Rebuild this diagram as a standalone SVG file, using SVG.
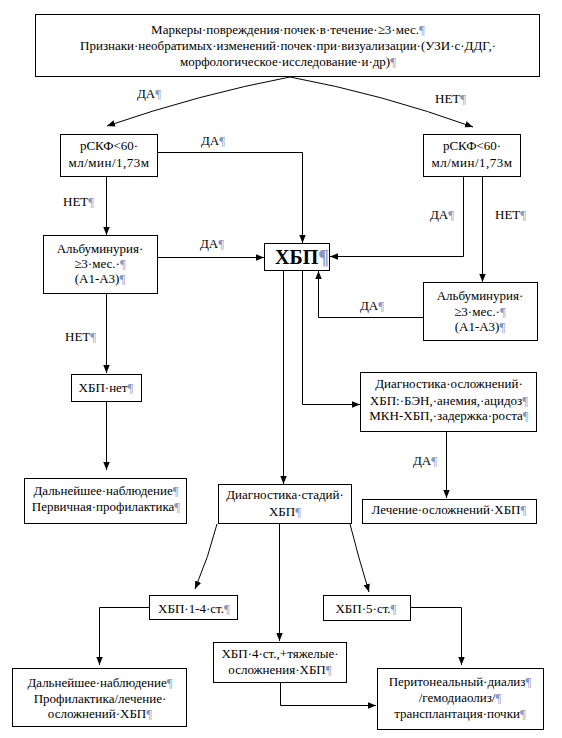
<svg xmlns="http://www.w3.org/2000/svg" width="562" height="738" viewBox="0 0 562 738">
<style>
text{font-family:"Liberation Serif","Times New Roman",serif;font-size:13px;fill:#000}
.c{text-anchor:middle}
.p{fill:#8797bd}
.b{font-size:20px;font-weight:bold}
rect{fill:#fff;stroke:#000;stroke-width:1}
.e path{fill:none;stroke:#000;stroke-width:1}
</style>
<defs>
<marker id="a" viewBox="0 0 8 8" refX="8" refY="4" markerWidth="8" markerHeight="8" markerUnits="userSpaceOnUse" orient="auto">
<path d="M0,0.8 L8,4 L0,7.2 Z" fill="#000"/>
</marker>
</defs>
<rect x="0" y="0" width="562" height="738" style="stroke:none"/>

<g id="n-top">
<rect x="35.5" y="14.5" width="504" height="62"/>
<text class="c" x="288" y="34">Маркеры·повреждения·почек·в·течение·≥3·мес.<tspan class="p">¶</tspan></text>
<text class="c" x="288" y="50">Признаки·необратимых·изменений·почек·при·визуализации·(УЗИ·с·ДДГ,·</text>
<text class="c" x="288" y="66">морфологическое·исследование·и·др)<tspan class="p">¶</tspan></text>
</g>

<g id="n-gfr-left">
<rect x="60.5" y="134.5" width="97" height="42"/>
<text class="c" x="109" y="150">рСКФ&lt;60·</text>
<text class="c" x="109" y="167" letter-spacing="0.5">мл/мин/1,73м</text>
</g>

<g id="n-gfr-right">
<rect x="423.5" y="134.5" width="97" height="42"/>
<text class="c" x="472" y="150">рСКФ&lt;60·</text>
<text class="c" x="472" y="167" letter-spacing="0.5">мл/мин/1,73м</text>
</g>

<g id="n-alb-left">
<rect x="43.5" y="235.5" width="114" height="58"/>
<text class="c" x="100" y="253">Альбуминурия·</text>
<text class="c" x="100" y="268">≥3·мес.·<tspan class="p">¶</tspan></text>
<text class="c" x="100" y="283">(А1-А3)<tspan class="p">¶</tspan></text>
</g>

<g id="n-ckd">
<rect x="264.5" y="243.5" width="65" height="27"/>
<text class="b" x="275" y="264">ХБП<tspan class="p">¶</tspan></text>
</g>

<g id="n-alb-right">
<rect x="423.5" y="282.5" width="114" height="58"/>
<text class="c" x="480" y="300">Альбуминурия·</text>
<text class="c" x="480" y="316">≥3·мес.·<tspan class="p">¶</tspan></text>
<text class="c" x="480" y="331">(А1-А3)<tspan class="p">¶</tspan></text>
</g>

<g id="n-no-ckd">
<rect x="71.5" y="374.5" width="70" height="27"/>
<text class="c" x="106" y="392">ХБП·нет<tspan class="p">¶</tspan></text>
</g>

<g id="n-compl-diag">
<rect x="360.5" y="372.5" width="176" height="59"/>
<text class="c" x="449" y="388">Диагностика·осложнений·</text>
<text class="c" x="449" y="405">ХБП:·БЭН,·анемия,·ацидоз<tspan class="p">¶</tspan></text>
<text class="c" x="449" y="420">МКН-ХБП,·задержка·роста<tspan class="p">¶</tspan></text>
</g>

<g id="n-follow1">
<rect x="24.5" y="478.5" width="162" height="45"/>
<text class="c" x="106" y="495">Дальнейшее·наблюдение<tspan class="p">¶</tspan></text>
<text class="c" x="106" y="511">Первичная·профилактика<tspan class="p">¶</tspan></text>
</g>

<g id="n-stage-diag">
<rect x="218.5" y="484.5" width="133" height="39"/>
<text class="c" x="285" y="499">Диагностика·стадий·</text>
<text class="c" x="285" y="516">ХБП<tspan class="p">¶</tspan></text>
</g>

<g id="n-compl-treat">
<rect x="362.5" y="499.5" width="174" height="24"/>
<text class="c" x="449" y="514">Лечение·осложнений·ХБП<tspan class="p">¶</tspan></text>
</g>

<g id="n-ckd14">
<rect x="149.5" y="595.5" width="88" height="24"/>
<text class="c" x="194" y="613">ХБП·1-4·ст.<tspan class="p">¶</tspan></text>
</g>

<g id="n-ckd5">
<rect x="323.5" y="595.5" width="87" height="25"/>
<text class="c" x="366" y="613">ХБП·5·ст.<tspan class="p">¶</tspan></text>
</g>

<g id="n-ckd4sev">
<rect x="213.5" y="642.5" width="133" height="40"/>
<text class="c" x="280" y="658">ХБП·4·ст.,+тяжелые·</text>
<text class="c" x="280" y="674">осложнения·ХБП<tspan class="p">¶</tspan></text>
</g>

<g id="n-follow2">
<rect x="12.5" y="668.5" width="174" height="58"/>
<text class="c" x="100" y="687">Дальнейшее·наблюдение<tspan class="p">¶</tspan></text>
<text class="c" x="100" y="703">Профилактика/лечение·</text>
<text class="c" x="100" y="718">осложнений·ХБП<tspan class="p">¶</tspan></text>
</g>

<g id="n-rrt">
<rect x="377.5" y="668.5" width="166" height="61"/>
<text class="c" x="460" y="686">Перитонеальный·диализ<tspan class="p">¶</tspan></text>
<text class="c" x="460" y="702">/гемодиаолиз/<tspan class="p">¶</tspan></text>
<text class="c" x="460" y="718">трансплантация·почки<tspan class="p">¶</tspan></text>
</g>

<g id="connectors" class="e">
<path d="M290,77 Q200,94 107,126" marker-end="url(#a)"/>
<path d="M290,77 Q382,94 473,127" marker-end="url(#a)"/>
<path d="M157.5,152.5 H302.5 V243" marker-end="url(#a)"/>
<path d="M106.5,176.5 V235" marker-end="url(#a)"/>
<path d="M157.5,257.5 H264" marker-end="url(#a)"/>
<path d="M463.5,176.5 V256.5 H330" marker-end="url(#a)"/>
<path d="M482.5,176.5 V282" marker-end="url(#a)"/>
<path d="M423.5,317.5 H318.5 V271" marker-end="url(#a)"/>
<path d="M106.5,293.5 V373" marker-end="url(#a)"/>
<path d="M106.5,401.5 V470" marker-end="url(#a)"/>
<path d="M283.5,270.5 V484" marker-end="url(#a)"/>
<path d="M302.5,270.5 V404.5 H360" marker-end="url(#a)"/>
<path d="M446.5,431.5 V498" marker-end="url(#a)"/>
<path d="M217,524 Q209,556 195,589" marker-end="url(#a)"/>
<path d="M350,524 Q358,556 369,592" marker-end="url(#a)"/>
<path d="M279.5,523.5 V641" marker-end="url(#a)"/>
<path d="M149.5,607.5 H99.5 V665" marker-end="url(#a)"/>
<path d="M410.5,607.5 H461.5 V665" marker-end="url(#a)"/>
<path d="M280.5,682.5 V705.5 H376" marker-end="url(#a)"/>
</g>

<g id="labels">
<text x="137" y="98">ДА<tspan class="p">¶</tspan></text>
<text x="435" y="103">НЕТ<tspan class="p">¶</tspan></text>
<text x="201" y="145">ДА<tspan class="p">¶</tspan></text>
<text x="63" y="206">НЕТ<tspan class="p">¶</tspan></text>
<text x="200" y="248">ДА<tspan class="p">¶</tspan></text>
<text x="430" y="219">ДА<tspan class="p">¶</tspan></text>
<text x="495" y="219">НЕТ<tspan class="p">¶</tspan></text>
<text x="360" y="310">ДА<tspan class="p">¶</tspan></text>
<text x="65" y="341">НЕТ<tspan class="p">¶</tspan></text>
<text x="413" y="465">ДА<tspan class="p">¶</tspan></text>
</g>
</svg>
